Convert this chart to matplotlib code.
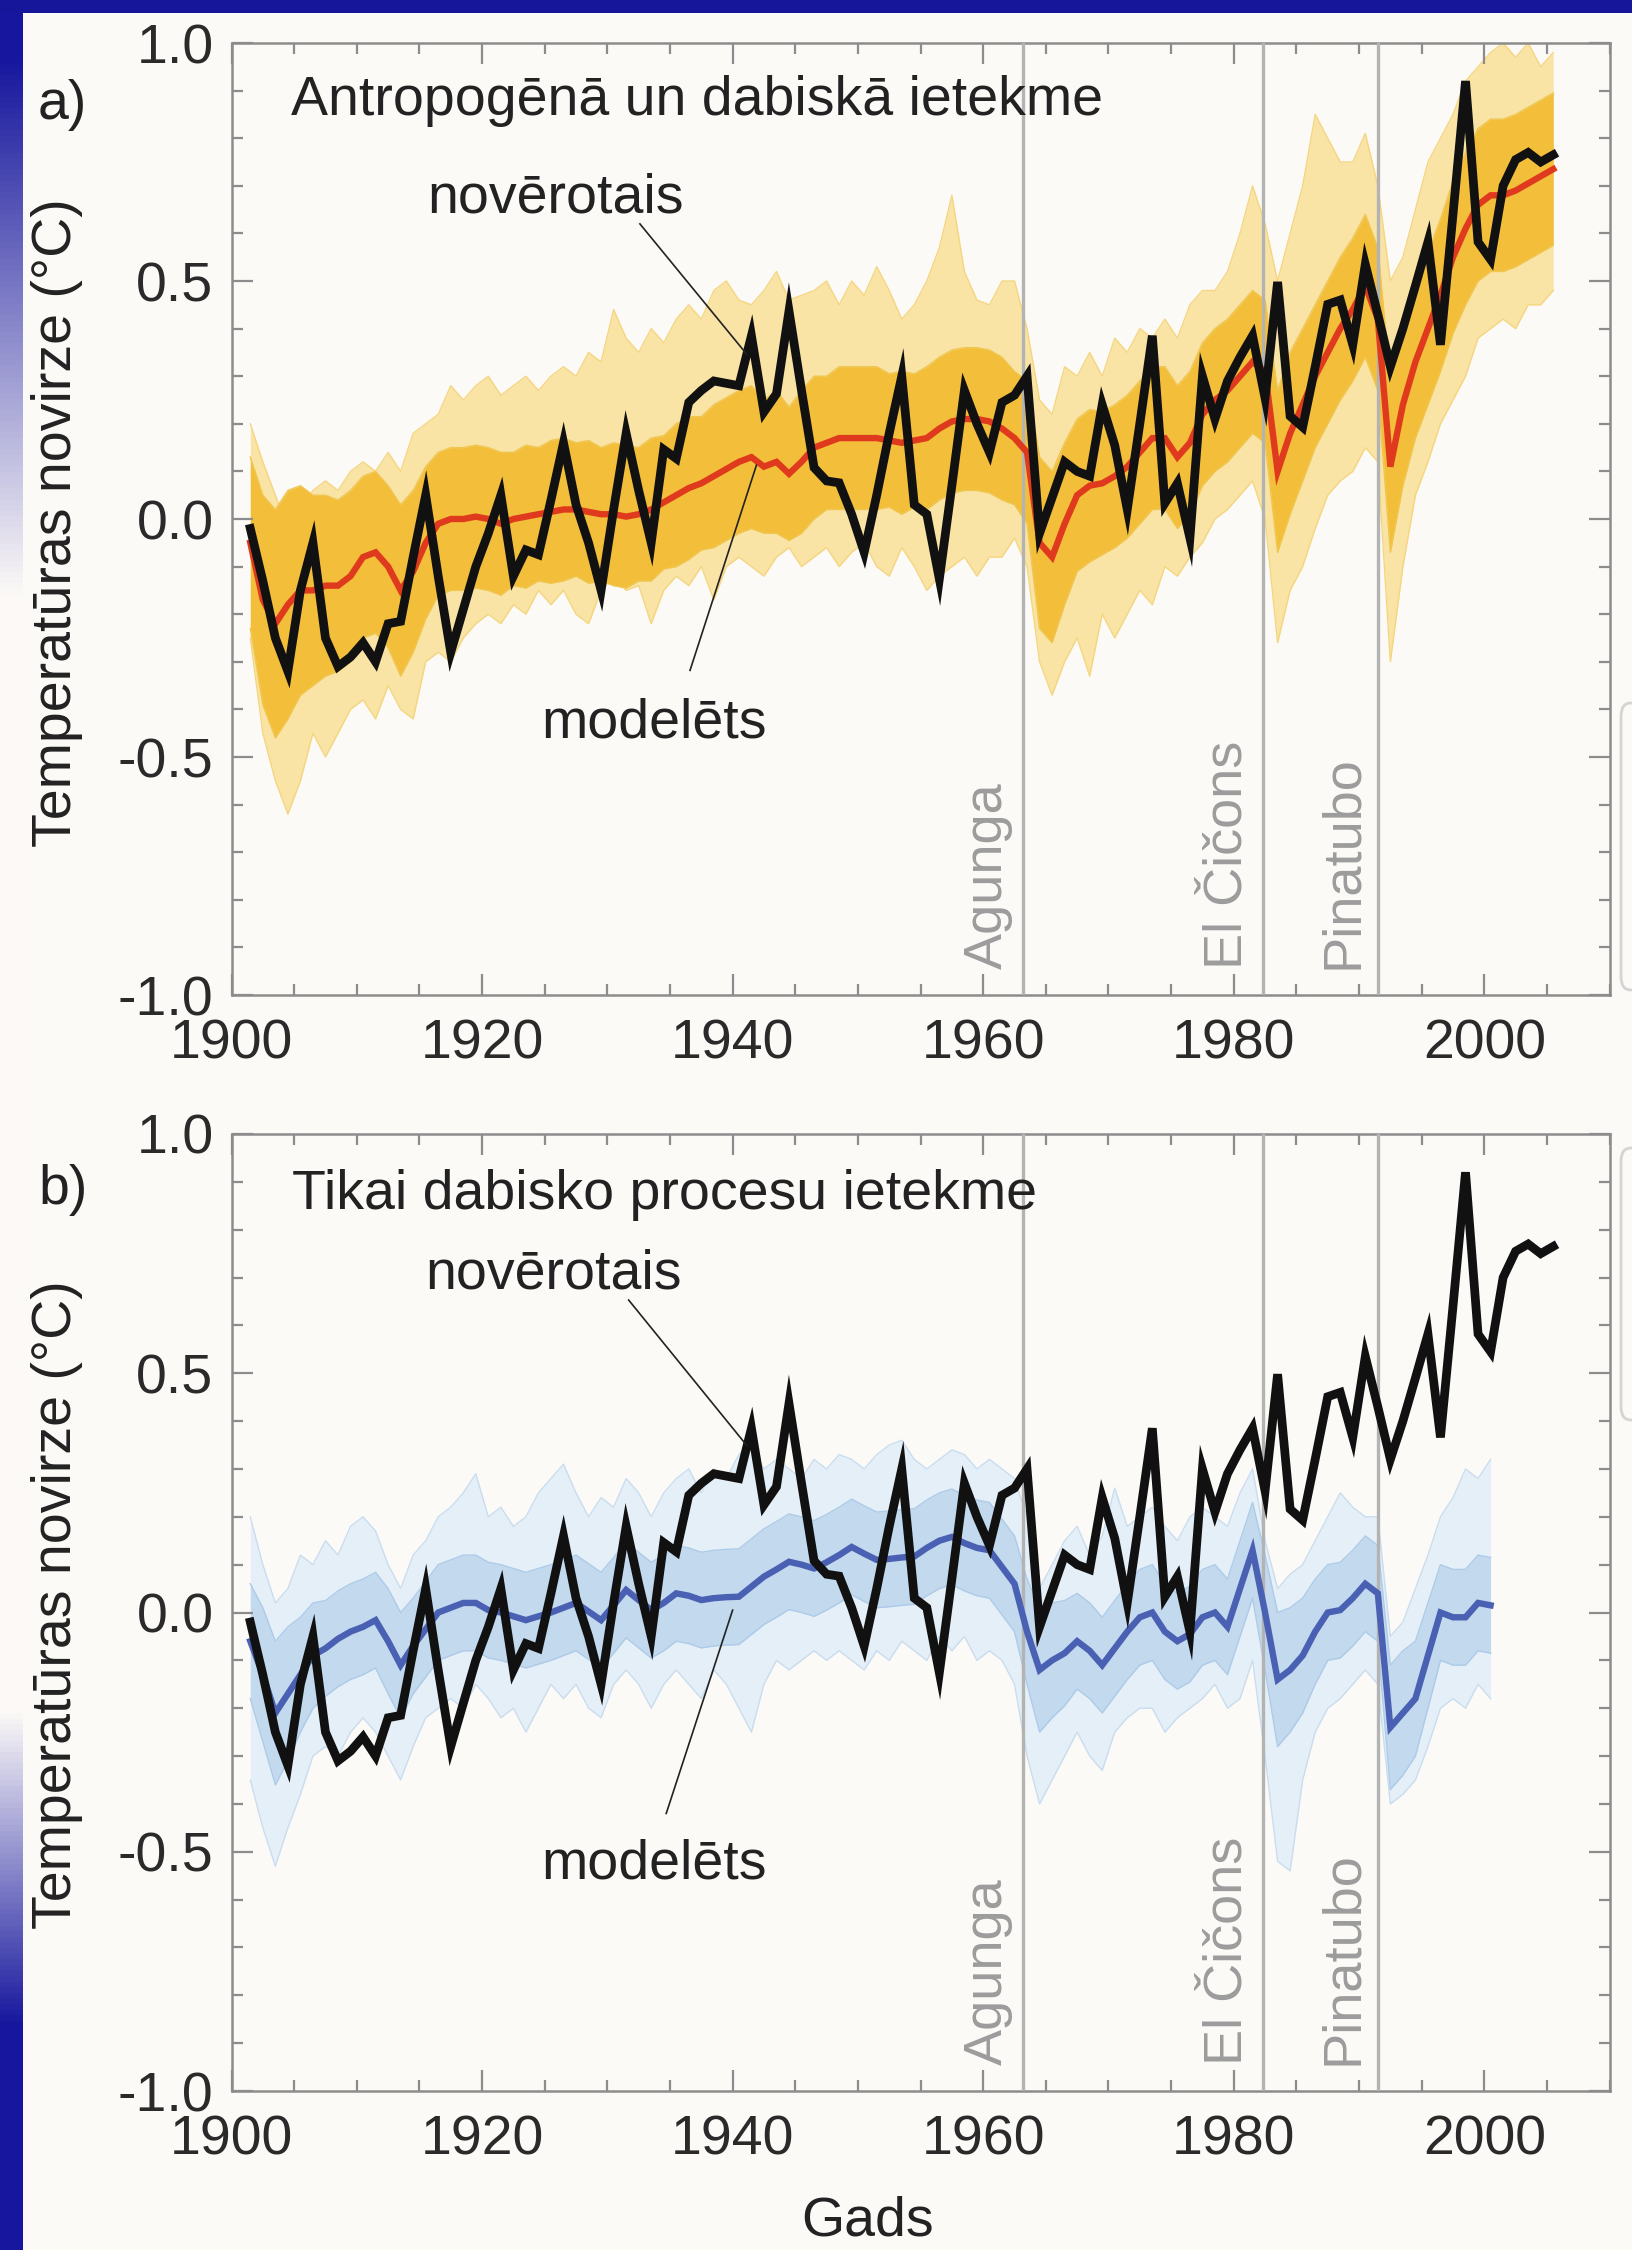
import numpy as np
import matplotlib
matplotlib.use("Agg")
import matplotlib.pyplot as plt
from matplotlib.ticker import MultipleLocator, FixedLocator
from matplotlib.patches import Rectangle, FancyBboxPatch

plt.rcParams['font.family'] = ['Liberation Sans', 'DejaVu Sans']

# ---------------- data ----------------
years_a = list(range(1901, 2006))
years_b = list(range(1901, 2001))

observed = [
    -0.02, -0.13, -0.25, -0.32, -0.15, -0.05, -0.25, -0.31, -0.29, -0.26,
    -0.30, -0.22, -0.215, -0.08, 0.05, -0.12, -0.28, -0.19, -0.10, -0.03,
    0.05, -0.12, -0.065, -0.075, 0.04, 0.16, 0.03, -0.05, -0.15, 0.02,
    0.18, 0.06, -0.05, 0.146, 0.127, 0.245, 0.27, 0.29, 0.285, 0.28,
    0.385, 0.225, 0.263, 0.437, 0.27, 0.108, 0.08, 0.076, 0.01, -0.07,
    0.05, 0.18, 0.30, 0.03, 0.01, -0.126, 0.07, 0.27, 0.20, 0.14,
    0.245, 0.26, 0.30, -0.03, 0.045, 0.12, 0.10, 0.09, 0.24, 0.155,
    0.02, 0.20, 0.385, 0.033, 0.075, -0.04, 0.30, 0.21, 0.29, 0.34,
    0.385, 0.254, 0.498, 0.216, 0.193, 0.32, 0.451, 0.46, 0.366, 0.535,
    0.43, 0.32, 0.40, 0.49, 0.582, 0.366, 0.64, 0.92, 0.582, 0.545,
    0.70, 0.755, 0.77, 0.75, 0.765]

model_a_mean = [
    -0.05, -0.17, -0.22, -0.18, -0.15, -0.15, -0.14, -0.14, -0.12, -0.08,
    -0.07, -0.10, -0.15, -0.11, -0.05, -0.01, 0.0, 0.0, 0.005, 0.0,
    -0.01, 0.0, 0.005, 0.01, 0.015, 0.02, 0.02, 0.015, 0.01, 0.01,
    0.005, 0.01, 0.02, 0.035, 0.05, 0.065, 0.075, 0.09, 0.105, 0.12,
    0.13, 0.11, 0.12, 0.095, 0.12, 0.15, 0.16, 0.17, 0.17, 0.17,
    0.17, 0.165, 0.16, 0.165, 0.17, 0.19, 0.205, 0.21, 0.21, 0.205,
    0.19, 0.17, 0.14, -0.05, -0.08, -0.01, 0.05, 0.07, 0.075, 0.09,
    0.11, 0.14, 0.17, 0.17, 0.13, 0.16, 0.22, 0.25, 0.27, 0.30,
    0.33, 0.31, 0.10, 0.18, 0.24, 0.30, 0.35, 0.40, 0.44, 0.49,
    0.42, 0.11, 0.24, 0.33, 0.40, 0.47, 0.55, 0.61, 0.66, 0.68,
    0.68, 0.69, 0.705, 0.72, 0.735]

model_a_upper = [
    0.20, 0.12, 0.05, -0.02, 0.02, 0.06, 0.08, 0.06, 0.10, 0.12,
    0.10, 0.14, 0.10, 0.18, 0.20, 0.22, 0.28, 0.25, 0.28, 0.30,
    0.26, 0.28, 0.30, 0.27, 0.30, 0.32, 0.30, 0.35, 0.33, 0.44,
    0.38, 0.35, 0.40, 0.37, 0.42, 0.45, 0.42, 0.48, 0.50, 0.46,
    0.45, 0.48, 0.52, 0.46, 0.47, 0.48, 0.50, 0.45, 0.50, 0.47,
    0.53, 0.48, 0.42, 0.45, 0.50, 0.57, 0.68, 0.52, 0.46, 0.45,
    0.50, 0.50, 0.40, 0.25, 0.22, 0.32, 0.30, 0.35, 0.30, 0.38,
    0.35, 0.40, 0.38, 0.42, 0.38, 0.45, 0.48, 0.48, 0.52, 0.60,
    0.70, 0.62, 0.50, 0.60, 0.70, 0.85, 0.80, 0.75, 0.75, 0.81,
    0.70, 0.50, 0.55, 0.65, 0.75, 0.80, 0.85, 0.92, 0.95, 0.98,
    1.00, 0.97, 1.00, 0.95, 0.98]

model_a_lower = [
    -0.25, -0.45, -0.55, -0.62, -0.55, -0.45, -0.50, -0.45, -0.40, -0.38,
    -0.42, -0.35, -0.40, -0.42, -0.30, -0.28, -0.30, -0.25, -0.22, -0.20,
    -0.22, -0.18, -0.20, -0.15, -0.18, -0.15, -0.20, -0.22, -0.15, -0.12,
    -0.15, -0.14, -0.22, -0.15, -0.12, -0.14, -0.10, -0.17, -0.10, -0.08,
    -0.10, -0.12, -0.08, -0.06, -0.10, -0.08, -0.06, -0.10, -0.07, -0.05,
    -0.10, -0.12, -0.06, -0.10, -0.15, -0.12, -0.10, -0.08, -0.12, -0.08,
    -0.08, -0.04, -0.10, -0.30, -0.37, -0.30, -0.25, -0.33, -0.20, -0.25,
    -0.20, -0.15, -0.18, -0.10, -0.12, -0.08, -0.05, 0.00, 0.02, 0.05,
    0.08, 0.00, -0.26, -0.15, -0.10, -0.02, 0.05, 0.08, 0.10, 0.15,
    0.12, -0.30, -0.10, 0.05, 0.12, 0.20, 0.25, 0.30, 0.38, 0.40,
    0.42, 0.40, 0.45, 0.45, 0.48]

model_a_core_hw = [
    0.18, 0.22, 0.24, 0.24, 0.22, 0.20, 0.19, 0.18, 0.18, 0.17,
    0.17, 0.17, 0.18, 0.17, 0.16, 0.15, 0.15, 0.15, 0.15, 0.15,
    0.15, 0.14, 0.15, 0.14, 0.15, 0.15, 0.14, 0.15, 0.14, 0.15,
    0.15, 0.14, 0.15, 0.14, 0.15, 0.15, 0.14, 0.15, 0.15, 0.15,
    0.15, 0.14, 0.15, 0.14, 0.15, 0.15, 0.14, 0.15, 0.15, 0.15,
    0.15, 0.14, 0.15, 0.14, 0.15, 0.15, 0.15, 0.15, 0.15, 0.15,
    0.15, 0.14, 0.15, 0.18, 0.18, 0.17, 0.16, 0.16, 0.15, 0.15,
    0.15, 0.15, 0.15, 0.15, 0.15, 0.15, 0.15, 0.15, 0.15, 0.15,
    0.15, 0.15, 0.17, 0.17, 0.16, 0.15, 0.15, 0.15, 0.15, 0.15,
    0.15, 0.18, 0.17, 0.16, 0.16, 0.16, 0.16, 0.16, 0.16, 0.16,
    0.16, 0.16, 0.16, 0.16, 0.16]

model_b_mean = [
    -0.06, -0.13, -0.21, -0.17, -0.13, -0.09, -0.075, -0.055, -0.04, -0.03,
    -0.016, -0.06, -0.11, -0.07, -0.035, 0.0, 0.01, 0.02, 0.02, 0.005,
    0.0, -0.008, -0.016, -0.008, 0.0, 0.01, 0.02, 0.002, -0.016, 0.015,
    0.047, 0.026, 0.005, 0.02, 0.04, 0.035, 0.026, 0.03, 0.032, 0.033,
    0.054, 0.075, 0.09, 0.106, 0.10, 0.092, 0.105, 0.12, 0.137, 0.123,
    0.11, 0.112, 0.115, 0.117, 0.135, 0.15, 0.158, 0.145, 0.135, 0.13,
    0.095, 0.06, -0.04, -0.12, -0.10, -0.085, -0.06, -0.08, -0.11, -0.075,
    -0.04, -0.01, 0.0, -0.04, -0.06, -0.045, -0.01, 0.0, -0.03, 0.05,
    0.13, 0.0, -0.14, -0.12, -0.09, -0.04, 0.0, 0.005, 0.03, 0.06,
    0.04, -0.24, -0.21, -0.18, -0.09, 0.0, -0.01, -0.01, 0.02, 0.015]

model_b_upper = [
    0.20, 0.10, 0.02, 0.05, 0.12, 0.10, 0.15, 0.12, 0.18, 0.20,
    0.17, 0.10, 0.05, 0.12, 0.15, 0.20, 0.22, 0.25, 0.29, 0.20,
    0.22, 0.18, 0.20, 0.25, 0.28, 0.31, 0.25, 0.20, 0.24, 0.22,
    0.28, 0.25, 0.20, 0.25, 0.28, 0.30, 0.25, 0.30, 0.28, 0.33,
    0.35, 0.30, 0.32, 0.30, 0.28, 0.32, 0.30, 0.33, 0.32, 0.30,
    0.33, 0.35, 0.36, 0.32, 0.30, 0.32, 0.34, 0.33, 0.30, 0.32,
    0.30, 0.28, 0.20, 0.05, 0.10, 0.15, 0.18, 0.12, 0.16, 0.26,
    0.18, 0.20, 0.22, 0.18, 0.15, 0.20, 0.22, 0.20, 0.18, 0.25,
    0.30, 0.15, 0.05, 0.08, 0.10, 0.15, 0.20, 0.25, 0.22, 0.20,
    0.20, -0.05, -0.02, 0.05, 0.12, 0.20, 0.24, 0.30, 0.28, 0.32]

model_b_lower = [
    -0.35, -0.45, -0.53, -0.45, -0.38, -0.30, -0.28, -0.30, -0.25, -0.22,
    -0.25, -0.30, -0.35, -0.28, -0.22, -0.20, -0.18, -0.20, -0.15, -0.18,
    -0.22, -0.20, -0.25, -0.20, -0.15, -0.18, -0.15, -0.20, -0.22, -0.15,
    -0.12, -0.15, -0.20, -0.15, -0.12, -0.15, -0.18, -0.12, -0.15, -0.20,
    -0.25, -0.15, -0.10, -0.12, -0.10, -0.08, -0.10, -0.08, -0.10, -0.12,
    -0.08, -0.10, -0.06, -0.08, -0.10, -0.05, -0.08, -0.05, -0.10, -0.08,
    -0.10, -0.15, -0.30, -0.40, -0.35, -0.30, -0.25, -0.30, -0.33, -0.25,
    -0.22, -0.20, -0.20, -0.25, -0.22, -0.20, -0.18, -0.15, -0.20, -0.18,
    -0.10, -0.30, -0.52, -0.54, -0.35, -0.25, -0.20, -0.18, -0.15, -0.12,
    -0.15, -0.40, -0.38, -0.35, -0.28, -0.20, -0.18, -0.20, -0.15, -0.18]

model_b_core_hw = [
    0.12, 0.14, 0.15, 0.14, 0.12, 0.11, 0.10, 0.10, 0.10, 0.10,
    0.10, 0.11, 0.11, 0.10, 0.10, 0.10, 0.10, 0.10, 0.10, 0.10,
    0.10, 0.10, 0.10, 0.10, 0.10, 0.10, 0.10, 0.10, 0.10, 0.10,
    0.10, 0.10, 0.10, 0.10, 0.10, 0.10, 0.10, 0.10, 0.10, 0.10,
    0.10, 0.10, 0.10, 0.10, 0.10, 0.10, 0.10, 0.10, 0.10, 0.10,
    0.10, 0.10, 0.10, 0.10, 0.10, 0.10, 0.10, 0.10, 0.10, 0.10,
    0.10, 0.10, 0.11, 0.13, 0.12, 0.11, 0.10, 0.10, 0.10, 0.10,
    0.10, 0.10, 0.10, 0.10, 0.10, 0.10, 0.10, 0.10, 0.10, 0.10,
    0.10, 0.12, 0.14, 0.13, 0.12, 0.11, 0.10, 0.10, 0.10, 0.10,
    0.10, 0.13, 0.13, 0.12, 0.11, 0.10, 0.10, 0.10, 0.10, 0.10]

volcano_names = ['Agunga', 'El Čičons', 'Pinatubo']
volcano_years = [1963.2, 1982.3, 1991.5]

panel_letters = ['a)', 'b)']
panel_titles = ['Antropogēnā un dabiskā ietekme', 'Tikai dabisko procesu ietekme']
label_observed = 'novērotais'
label_modelled = 'modelēts'
y_label = 'Temperatūras novirze (°C)'
x_label = 'Gads'

x_ticks = [1900, 1920, 1940, 1960, 1980, 2000]
y_ticks = [-1.0, -0.5, 0.0, 0.5, 1.0]
y_ticklabels = ['-1.0', '-0.5', '0.0', '0.5', '1.0']

# ---------------- figure ----------------
W, H = 1632, 2250
BG = '#fcfaf7'
fig = plt.figure(figsize=(W / 100, H / 100), dpi=100, facecolor=BG)

# slide frame: top bar, left gradient strip, faint box remnants at right
fig.patches.append(Rectangle((0, 1 - 13 / H), 1, 13 / H, transform=fig.transFigure,
                             facecolor='#16169a', edgecolor='none', zorder=5))
strip = fig.add_axes([0, 0, 23 / W, 1 - 13 / H])
strip.set_axis_off()
t = np.linspace(0, 1, 400)
dark = np.clip(1 - (t - 0.02) / 0.24, 0, 1) + np.clip((t - 0.76) / 0.14, 0, 1)
dark = np.clip(dark, 0, 1)[:, None]
c_dark = np.array([0.09, 0.09, 0.62])
c_light = np.array([0.99, 0.98, 0.97])
img = c_light[None, :] * (1 - dark) + c_dark[None, :] * dark
strip.imshow(img[:, None, :], aspect='auto', extent=[0, 1, 0, 1])

for (y0, y1) in [(703, 990), (1148, 1420)]:
    fig.patches.append(FancyBboxPatch((1621 / W, 1 - y1 / H), 60 / W, (y1 - y0) / H,
                                      boxstyle='round,pad=0,rounding_size=0.006',
                                      transform=fig.transFigure, facecolor='none',
                                      edgecolor='#d4d4d4', lw=2.0, zorder=5))

ax_left = 231.5 / W
ax_w = (1609.6 - 231.5) / W
ax_a = fig.add_axes([ax_left, 1 - 995 / H, ax_w, (995 - 43) / H])
ax_b = fig.add_axes([ax_left, 1 - 2091 / H, ax_w, (2091 - 1134) / H])

xa = np.array(years_a) + 0.5
xb = np.array(years_b) + 0.5

FS = 40
SPINE = '#8c8c8c'


def style(ax):
    ax.set_facecolor(BG)
    ax.set_xlim(1900, 2010)
    ax.set_ylim(-1.0, 1.0)
    ax.xaxis.set_major_locator(FixedLocator(x_ticks))
    ax.xaxis.set_minor_locator(MultipleLocator(5))
    ax.yaxis.set_major_locator(FixedLocator(y_ticks))
    ax.yaxis.set_minor_locator(MultipleLocator(0.1))
    ax.set_yticklabels(y_ticklabels)
    ax.set_xticklabels([str(v) for v in x_ticks])
    ax.tick_params(which='both', direction='in', top=True, right=True,
                   color=SPINE, labelcolor='#2a2a2a', labelsize=FS)
    ax.tick_params(which='major', length=15, width=1.6)
    ax.tick_params(which='minor', length=8, width=1.6)
    ax.tick_params(axis='x', which='major', pad=17)
    ax.tick_params(axis='y', which='major', pad=13)
    for s in ax.spines.values():
        s.set_color(SPINE)
        s.set_linewidth(1.8)


def volcanoes(ax):
    for vy, name in zip(volcano_years, volcano_names):
        ax.axvline(vy, color='#b3b3b3', lw=2.4, zorder=3)
        ax.text(vy - 0.8, -0.945, name, rotation=90, ha='right', va='bottom',
                color='#9c9c9c', fontsize=FS - 1, zorder=3)


# ---- panel a ----
ma = np.array(model_a_mean)
hwa = np.array(model_a_core_hw)
ax_a.fill_between(xa, model_a_lower, model_a_upper, color='#f9e4a6', lw=0, zorder=1)
ax_a.plot(xa, model_a_upper, color='#f5d680', lw=1.0, zorder=1.2)
ax_a.plot(xa, model_a_lower, color='#f5d680', lw=1.0, zorder=1.2)
ax_a.fill_between(xa, ma - hwa, ma + hwa, color='#f3bf3a', lw=0, zorder=1.5)
ax_a.plot(xa, ma + hwa, color='#f0c650', lw=1.0, zorder=1.6)
ax_a.plot(xa, ma - hwa, color='#f0c650', lw=1.0, zorder=1.6)
volcanoes(ax_a)
ax_a.plot(xa, model_a_mean, color='#e03a1e', lw=4.6, zorder=4, solid_joinstyle='miter')
ax_a.plot(xa, observed, color='#111111', lw=6.3, zorder=5, solid_joinstyle='miter')
style(ax_a)

ax_a.text(1904.75, 0.849, panel_titles[0], fontsize=FS, color='#222222', ha='left', va='baseline')
ax_a.text(1915.6, 0.643, label_observed, fontsize=FS, color='#222222', ha='left', va='baseline')
ax_a.text(1924.7, -0.46, label_modelled, fontsize=FS, color='#222222', ha='left', va='baseline')
ax_a.plot([1932.6, 1941.1], [0.62, 0.347], color='#222222', lw=1.2, zorder=6)
ax_a.plot([1936.6, 1941.9], [-0.318, 0.113], color='#222222', lw=1.2, zorder=6)

# ---- panel b ----
mb = np.array(model_b_mean)
hwb = np.array(model_b_core_hw)
ax_b.fill_between(xb, model_b_lower, model_b_upper, color='#e5eff8', lw=0, zorder=1)
ax_b.plot(xb, model_b_upper, color='#c9ddef', lw=1.0, zorder=1.2)
ax_b.plot(xb, model_b_lower, color='#c9ddef', lw=1.0, zorder=1.2)
ax_b.fill_between(xb, mb - hwb, mb + hwb, color='#c3d9ee', lw=0, zorder=1.5)
ax_b.plot(xb, mb + hwb, color='#adcbe8', lw=1.0, zorder=1.6)
ax_b.plot(xb, mb - hwb, color='#adcbe8', lw=1.0, zorder=1.6)
volcanoes(ax_b)
ax_b.plot(xb, model_b_mean, color='#4a60b2', lw=4.6, zorder=4, solid_joinstyle='miter')
ax_b.plot(xa, observed, color='#111111', lw=6.3, zorder=5, solid_joinstyle='miter')
style(ax_b)

ax_b.text(1904.8, 0.843, panel_titles[1], fontsize=FS, color='#222222', ha='left', va='baseline')
ax_b.text(1915.5, 0.678, label_observed, fontsize=FS, color='#222222', ha='left', va='baseline')
ax_b.text(1924.7, -0.555, label_modelled, fontsize=FS, color='#222222', ha='left', va='baseline')
ax_b.plot([1931.7, 1941.1], [0.653, 0.35], color='#222222', lw=1.2, zorder=6)
ax_b.plot([1934.7, 1940.0], [-0.42, 0.005], color='#222222', lw=1.2, zorder=6)

# ---- figure texts ----
fig.text(38 / W, 1 - 105 / H, panel_letters[0], fontsize=FS, color='#222222', ha='left', va='center')
fig.text(38 / W, 1 - 1190 / H, panel_letters[1], fontsize=FS, color='#222222', ha='left', va='center')
fig.text(57 / W, 1 - 523 / H, y_label, rotation=90, fontsize=FS, color='#222222', ha='center', va='center')
fig.text(57 / W, 1 - 1605 / H, y_label, rotation=90, fontsize=FS, color='#222222', ha='center', va='center')
fig.text(868 / W, 1 - 2222 / H, x_label, fontsize=FS, color='#222222', ha='center', va='center')

fig.savefig('out.png', dpi=100, facecolor=BG)
